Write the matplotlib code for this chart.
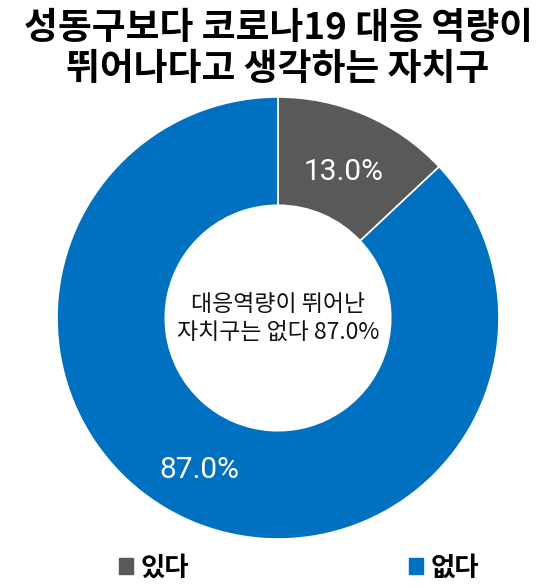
import matplotlib
matplotlib.use("Agg")
import matplotlib.pyplot as plt
from matplotlib.patches import Patch

plt.rcParams['font.family'] = ['Noto Sans CJK KR', 'DejaVu Sans']

title = "성동구보다 코로나19 대응 역량이\n뛰어나다고 생각하는 자치구"
categories = ["있다", "없다"]
values = [13.0, 87.0]
colors = ["#595959", "#0070C0"]
center_text = "대응역량이 뛰어난\n자치구는 없다 87.0%"

fig = plt.figure(figsize=(5.56, 5.88), dpi=100)
fig.patch.set_facecolor("white")

fig.text(0.5, 1 - 49 / 588, title, ha="center", va="center", fontsize=26.5,
         fontweight="bold", linespacing=1.12)

# axes centered at (278, 318) px with radius ~221 px
cx, cy, r = 278 / 556, 1 - 318 / 588, 221
w = 2 * r / 556
h = 2 * r / 588
ax = fig.add_axes([cx - w / 2, cy - h / 2, w, h])
wedges, texts = ax.pie(values, colors=colors, startangle=90, counterclock=False,
                       radius=1.0, wedgeprops=dict(width=0.49, edgecolor="white", linewidth=1.2))
ax.set_xlim(-1, 1)
ax.set_ylim(-1, 1)
ax.set_aspect("equal")
ax.axis("off")

label_pos = [(0.296, 0.66), (-0.355, -0.69)]
for v, (lx, ly) in zip(values, label_pos):
    ax.text(lx, ly, f"{v:.1f}%", color="white", fontsize=21.5, ha="center", va="center",
            family=["Roboto", "DejaVu Sans"])

ax.text(0.0, -0.005, center_text, ha="center", va="center", fontsize=16.5,
        style="italic", linespacing=1.35, color="#111111")

handles = [Patch(facecolor=c, edgecolor=c) for c in colors]
fig.legend(handles, categories, loc="center", bbox_to_anchor=(299 / 556, 1 - 568 / 588),
           ncol=2, frameon=False, columnspacing=8.3,
           handlelength=0.53, handleheight=0.53, handletextpad=0.3,
           prop={"weight": "bold", "size": 19})

fig.savefig("out.png", dpi=100, facecolor="white")
